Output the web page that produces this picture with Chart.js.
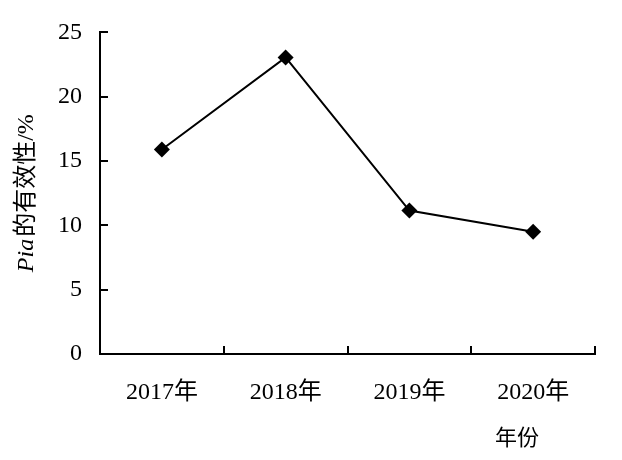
<!DOCTYPE html>
<html><head><meta charset="utf-8">
<script src="https://cdn.jsdelivr.net/npm/chart.js@4/dist/chart.umd.min.js"></script>
<style>html,body{margin:0;padding:0;background:#fff}#wrap{width:622px;height:460px}</style>
</head><body><div id="wrap"><canvas id="c"></canvas></div>
<script>
const categories = ['2017年', '2018年', '2019年', '2020年'];
const effectiveness = [15.9, 23.05, 11.15, 9.5];
const yTicks = [0, 5, 10, 15, 20, 25];
const yTitleItalic = 'Pia';
const yTitleRest = '的有效性/%';
const xTitle = '年份';

const FONT = "'Liberation Serif', 'Noto Sans CJK SC', serif";

const customDraw = {
  id: 'customDraw',
  afterDraw(chart) {
    const ctx = chart.ctx;
    const x = chart.scales.x, y = chart.scales.y;
    const area = chart.chartArea;
    ctx.save();
    ctx.strokeStyle = '#000';
    ctx.lineWidth = 2;
    yTicks.forEach(v => {
      const py = Math.round(y.getPixelForValue(v));
      ctx.beginPath(); ctx.moveTo(area.left, py); ctx.lineTo(area.left + 8, py); ctx.stroke();
    });
    for (let i = 0; i < categories.length; i++) {
      const px = Math.round(x.getPixelForValue(i) + (x.getPixelForValue(1) - x.getPixelForValue(0)) / 2);
      ctx.beginPath(); ctx.moveTo(px, area.bottom); ctx.lineTo(px, area.bottom - 8); ctx.stroke();
    }
    ctx.fillStyle = '#000';
    ctx.textBaseline = 'middle';
    ctx.translate(27, (area.top + area.bottom) / 2 + 1);
    ctx.rotate(-Math.PI / 2);
    ctx.font = "italic 24px " + FONT;
    const w1 = ctx.measureText(yTitleItalic).width;
    ctx.font = "24px " + FONT;
    const w2 = ctx.measureText(yTitleRest).width;
    let sx = -(w1 + w2) / 2;
    ctx.textAlign = 'left';
    ctx.font = "italic 24px " + FONT;
    ctx.fillText(yTitleItalic, sx, 0);
    ctx.font = "24px " + FONT;
    ctx.fillText(yTitleRest, sx + w1 + 2, 0);
    ctx.restore();
    ctx.save();
    ctx.fillStyle = '#000';
    ctx.font = "22px " + FONT;
    ctx.textAlign = 'center';
    ctx.textBaseline = 'middle';
    ctx.fillText(xTitle, 517, 439);
    ctx.restore();
  }
};

new Chart(document.getElementById('c'), {
  type: 'line',
  data: {
    labels: categories,
    datasets: [{
      data: effectiveness,
      borderColor: '#000',
      backgroundColor: '#000',
      borderWidth: 2,
      pointStyle: 'rectRot',
      pointRadius: 8,
      pointBorderWidth: 0,
      pointBackgroundColor: '#000',
      tension: 0,
      fill: false
    }]
  },
  options: {
    responsive: true,
    maintainAspectRatio: false,
    animation: false,
    devicePixelRatio: 1,
    layout: { padding: { left: 40, right: 27, top: 32, bottom: 0 } },
    plugins: { legend: { display: false }, tooltip: { enabled: false } },
    scales: {
      x: {
        offset: true,
        grid: { display: true, drawOnChartArea: false, drawTicks: false, color: 'rgba(0,0,0,0)' },
        border: { display: true, color: '#000', width: 2 },
        ticks: { color: '#000', font: { family: FONT, size: 24 }, padding: 24, maxRotation: 0 },
        afterFit(s) { s.height = 106; }
      },
      y: {
        min: 0, max: 25,
        afterBuildTicks(s) { s.ticks = yTicks.map(v => ({ value: v })); },
        grid: { display: true, drawOnChartArea: false, drawTicks: false, color: 'rgba(0,0,0,0)' },
        border: { display: true, color: '#000', width: 2 },
        ticks: { color: '#000', font: { family: FONT, size: 24 }, padding: 18 },
        afterFit(s) { s.width = 60; }
      }
    }
  },
  plugins: [customDraw]
});
</script>
</body></html>
